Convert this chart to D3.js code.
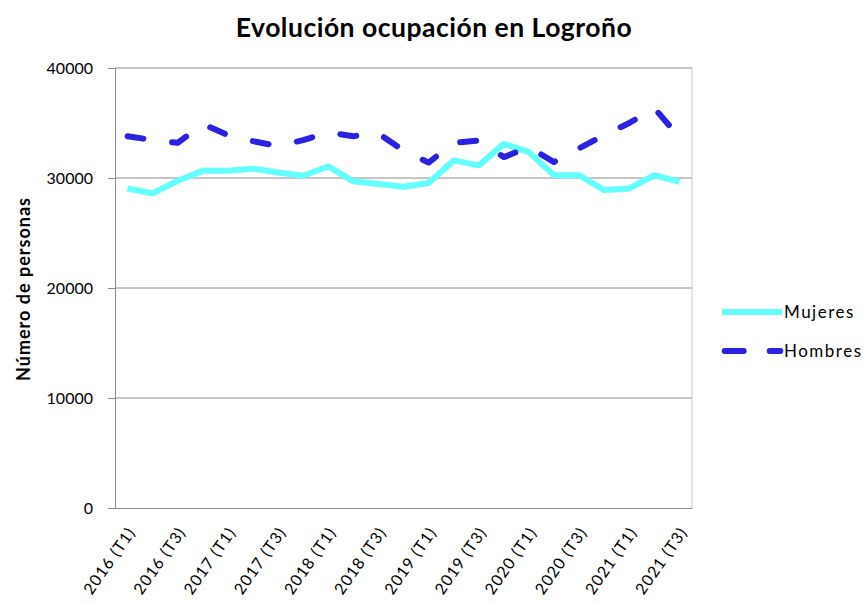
<!DOCTYPE html>
<html>
<head>
<meta charset="utf-8">
<script src="https://cdn.jsdelivr.net/npm/d3@7"></script>
<style>
  body { margin: 0; background: #fff; }
  text { font-family: Lato, "Open Sans", sans-serif; fill: #000; }
</style>
</head>
<body>
<div id="chart"></div>
<script>
// trimestres 2016 T1 .. 2021 T3
var periodos = [];
for (var a = 2016; a <= 2021; a++) {
    for (var t = 1; t <= 4; t++) {
        if (a === 2021 && t === 4) break;
        periodos.push(a + ' (T' + t + ')');
    }
}

var mujeres = [29050, 28600, 29750, 30650, 30650, 30850, 30500, 30200, 31050, 29700,
               29450, 29200, 29550, 31600, 31150, 33100, 32350, 30250, 30250, 28900,
               29050, 30250, 29650];
var hombres = [33800, 33450, 33200, 34900, 33900, 33350, 32900, 33450, 34150, 33800,
               34050, 32500, 31400, 33200, 33400, 31900, 32800, 31450, 32700, 33900,
               35000, 36350, 33700];

var yTicks = [0, 10000, 20000, 30000, 40000];
var etiquetasX = periodos.filter(function (d, i) { return i % 2 === 0; });

var W = 863, H = 603;
var margin = { top: 68, right: 171, bottom: 95, left: 115 };
var width = W - margin.left - margin.right;
var height = H - margin.top - margin.bottom;

var svg = d3.select('#chart').append('svg')
    .attr('width', W)
    .attr('height', H);

var g = svg.append('g')
    .attr('transform', 'translate(' + margin.left + ',' + margin.top + ')');

var x = d3.scaleBand()
    .domain(periodos)
    .range([0, width]);

var y = d3.scaleLinear()
    .domain([0, 40000])
    .range([height, 0]);

// rejilla
g.selectAll('.grid')
    .data(yTicks.slice(1))
    .enter()
    .append('line')
    .attr('class', 'grid')
    .attr('x1', 0)
    .attr('x2', width)
    .attr('y1', function (d) { return y(d); })
    .attr('y2', function (d) { return y(d); })
    .attr('stroke', '#8c8c8c')
    .attr('stroke-width', 1);

// borde derecho
g.append('line')
    .attr('x1', width).attr('x2', width)
    .attr('y1', 0).attr('y2', height)
    .attr('stroke', '#c8c8c8');

// eje Y
var yAxis = g.append('g')
    .call(d3.axisLeft(y).tickValues(yTicks).tickSize(7).tickPadding(15).tickFormat(d3.format('d')));
yAxis.select('.domain').attr('stroke', '#8c8c8c');
yAxis.selectAll('.tick line').attr('stroke', '#8c8c8c');
yAxis.selectAll('.tick text').style('font-size', '16px').attr('fill', '#000');

// eje X
var xAxis = g.append('g')
    .attr('transform', 'translate(0,' + height + ')')
    .call(d3.axisBottom(x).tickValues(etiquetasX).tickSize(0).tickPadding(0));
xAxis.select('.domain').attr('stroke', '#8c8c8c');
xAxis.selectAll('.tick text')
    .style('font-size', '16px')
    .style('letter-spacing', '1px')
    .attr('fill', '#000')
    .attr('text-anchor', 'end')
    .attr('dy', '0.35em')
    .attr('transform', 'translate(4,21) rotate(-55)');

// líneas
var linea = d3.line()
    .x(function (d, i) { return x(periodos[i]) + x.bandwidth() / 2; })
    .y(function (d) { return y(d); });

g.append('path')
    .datum(mujeres)
    .attr('d', linea)
    .attr('fill', 'none')
    .attr('stroke', '#66ffff')
    .attr('stroke-width', 6)
    .attr('stroke-linejoin', 'round');

g.append('path')
    .datum(hombres)
    .attr('d', linea)
    .attr('fill', 'none')
    .attr('stroke', '#2a22e0')
    .attr('stroke-width', 6)
    .attr('stroke-linecap', 'round')
    .attr('stroke-linejoin', 'round')
    .attr('stroke-dasharray', '16,29');

// título
svg.append('text')
    .attr('x', 434)
    .attr('y', 37)
    .attr('text-anchor', 'middle')
    .style('font-size', '26.5px')
    .style('font-weight', 'bold')
    .style('letter-spacing', '0.5px')
    .text('Evolución ocupación en Logroño');

// título eje Y
svg.append('text')
    .attr('text-anchor', 'middle')
    .attr('transform', 'translate(30,289) rotate(-90)')
    .style('font-size', '18px')
    .style('font-weight', 'bold')
    .style('letter-spacing', '1px')
    .text('Número de personas');

// leyenda
var leyenda = svg.append('g');
leyenda.append('line')
    .attr('x1', 722).attr('x2', 782).attr('y1', 312).attr('y2', 312)
    .attr('stroke', '#66ffff').attr('stroke-width', 6);
leyenda.append('line')
    .attr('x1', 724.7).attr('x2', 780.3).attr('y1', 351).attr('y2', 351)
    .attr('stroke', '#2a22e0').attr('stroke-width', 6)
    .attr('stroke-linecap', 'round')
    .attr('stroke-dasharray', '19,26');
leyenda.append('text')
    .attr('x', 784).attr('y', 318)
    .style('font-size', '17px')
    .style('letter-spacing', '1.5px')
    .text('Mujeres');
leyenda.append('text')
    .attr('x', 784).attr('y', 357)
    .style('font-size', '17px')
    .style('letter-spacing', '1.5px')
    .text('Hombres');
</script>
</body>
</html>
